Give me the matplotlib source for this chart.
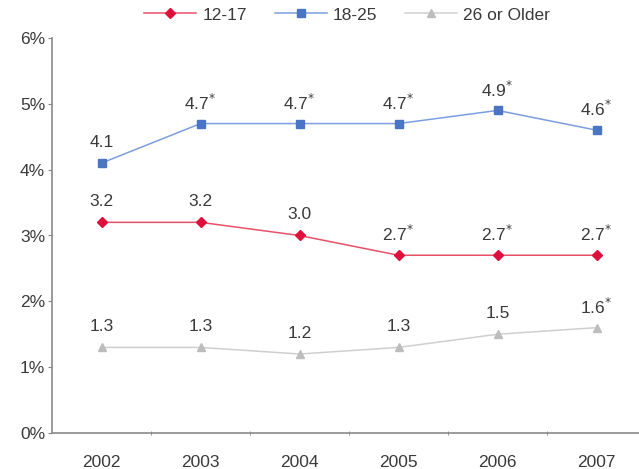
import matplotlib
matplotlib.use("Agg")
import matplotlib.pyplot as plt
import numpy as np

years = ["2002", "2003", "2004", "2005", "2006", "2007"]
s_12_17 = [3.2, 3.2, 3.0, 2.7, 2.7, 2.7]
s_18_25 = [4.1, 4.7, 4.7, 4.7, 4.9, 4.6]
s_26 = [1.3, 1.3, 1.2, 1.3, 1.5, 1.6]
star_12_17 = [False, False, False, True, True, True]
star_18_25 = [False, True, True, True, True, True]
star_26 = [False, False, False, False, False, True]
yticks = [0, 1, 2, 3, 4, 5, 6]
ytick_labels = ["0%", "1%", "2%", "3%", "4%", "5%", "6%"]

plt.rcParams['font.family'] = ['Liberation Sans', 'DejaVu Sans']
FS = 12.5
TC = "#3a3a3a"
fig = plt.figure(figsize=(6.39, 4.69), dpi=100)
ax = fig.add_axes([52/639, 36/469, 594/639, 395/469])

x = np.arange(len(years))
series = [
    ("12-17", s_12_17, star_12_17, "#e0103c", "#e8506a", "D", 5),
    ("18-25", s_18_25, star_18_25, "#4a74c4", "#7c9ee0", "s", 5.5),
    ("26 or Older", s_26, star_26, "#bdbdbd", "#cfcfcf", "^", 6),
]
for name, vals, stars, mc, lc, mk, ms in series:
    ax.plot(x, vals, color=lc, lw=1.1, marker=mk, markersize=ms,
            markerfacecolor=mc, markeredgecolor=mc, label=name)
    for xi, v, st in zip(x, vals, stars):
        lab = f"{v:.1f}" + ("$^{*}$" if st else "")
        ax.annotate(lab, (xi, v), xytext=(0, 15), textcoords="offset points",
                    ha="center", va="center", fontsize=FS, color=TC)

ax.set_xlim(-0.5, 5.5)
ax.set_ylim(0, 6)
ax.set_yticks(yticks)
ax.set_yticklabels(ytick_labels)
ax.set_xticks(x)
ax.set_xticklabels(years)
ax.set_xticks(np.arange(0.5, 5.5, 1), minor=True)
ax.tick_params(axis="x", which="major", length=0, pad=16, labelsize=FS, labelcolor=TC)
ax.tick_params(axis="x", which="minor", length=3, direction="inout", color="#888888")
ax.tick_params(axis="y", length=3, direction="out", color="#888888", labelsize=FS,
               labelcolor=TC, pad=2)
for s in ["top", "right"]:
    ax.spines[s].set_visible(False)
for s in ["left", "bottom"]:
    ax.spines[s].set_color("#8a8a8a")
    ax.spines[s].set_linewidth(1.2)

fig.legend(loc="center left", bbox_to_anchor=(139/639, 1 - 15/469), ncol=3, frameon=False,
           fontsize=FS, handlelength=3.0, columnspacing=1.6, handletextpad=0.35,
           labelcolor=TC, borderaxespad=0, borderpad=0.3)
fig.savefig("out.png", dpi=100)
